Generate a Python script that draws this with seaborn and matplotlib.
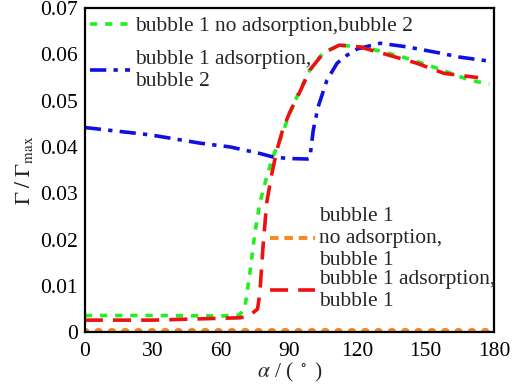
import matplotlib
matplotlib.use("Agg")
import matplotlib.pyplot as plt
from matplotlib.lines import Line2D
import seaborn as sns
import pandas as pd

# Surface coverage Γ/Γmax against contact angle α for the four cases
alpha_no_ads_b2 = [0, 30, 60, 68, 70.4, 72.6, 74.8, 77, 80, 82.7, 85.8, 90.2, 94.6, 99,
                   104.8, 112, 121, 125, 140, 147, 155, 169.5, 178]
gamma_no_ads_b2 = [0.0036, 0.0036, 0.0035, 0.0037, 0.0052, 0.0127, 0.0214, 0.0279, 0.0335,
                   0.0378, 0.0415, 0.0473, 0.0523, 0.0566, 0.0603, 0.0620, 0.0616, 0.0613,
                   0.0594, 0.0583, 0.0570, 0.0544, 0.0536]

alpha_ads_b2 = [0, 29, 51, 64, 77, 83, 90, 98, 99, 100.5, 102.6, 106.5, 111, 115, 120,
                130, 142, 156, 165, 180]
gamma_ads_b2 = [0.0442, 0.0426, 0.0408, 0.0400, 0.0386, 0.0378, 0.0375, 0.0374, 0.0376,
                0.0436, 0.0486, 0.0544, 0.0581, 0.0597, 0.0612, 0.0624, 0.0616, 0.0603,
                0.0594, 0.0584]

alpha_no_ads_b1 = [0, 180]
gamma_no_ads_b1 = [0.0, 0.0]

alpha_ads_b1 = [0, 30, 60, 68, 72, 76, 77, 78.4, 80, 82.3, 84.5, 87, 90, 95, 99, 105,
                112, 121, 134, 146, 158, 171, 173]
gamma_ads_b1 = [0.0026, 0.0026, 0.0030, 0.0031, 0.0034, 0.0050, 0.0084, 0.0184, 0.0279,
                0.0343, 0.0393, 0.0436, 0.0473, 0.0523, 0.0566, 0.0603, 0.0620, 0.0616,
                0.0598, 0.0581, 0.0559, 0.0551, 0.0550]

x_ticks = [0, 30, 60, 90, 120, 150, 180]
y_ticks = [0, 0.01, 0.02, 0.03, 0.04, 0.05, 0.06, 0.07]
y_tick_labels = ["0", "0.01", "0.02", "0.03", "0.04", "0.05", "0.06", "0.07"]

sns.set_style("white")
plt.rcParams["font.family"] = ["Liberation Serif", "DejaVu Serif"]
plt.rcParams["mathtext.fontset"] = "stix"

fig = plt.figure(figsize=(5.14, 3.84), dpi=100)
ax = fig.add_axes([0.165, 0.135, 0.796, 0.844])

series = [
    (alpha_no_ads_b2, gamma_no_ads_b2, "bubble 1 no adsorption,bubble 2",
     "#22ee22", (0, (2.0, 2.2)), "butt", 2.6),
    (alpha_ads_b2, gamma_ads_b2, "bubble 1 adsorption,\nbubble 2",
     "#1010e0", (0, (4.5, 2.0, 1.2, 2.0)), "butt", 2.6),
    (alpha_no_ads_b1, gamma_no_ads_b1, "bubble 1\nno adsorption,\nbubble 1",
     "#f58a1a", (0, (0.05, 1.55)), "round", 6.0),
    (alpha_ads_b1, gamma_ads_b1, "bubble 1 adsorption,\nbubble 1",
     "#ee1111", (0, (5.0, 2.8)), "butt", 2.6),
]

handles = []
for xs, ys, label, color, dash, cap, lw in series:
    df = pd.DataFrame({"alpha": xs, "gamma": ys})
    sns.lineplot(data=df, x="alpha", y="gamma", ax=ax, color=color, lw=lw,
                 label=label, legend=False, sort=False)
    line = ax.get_lines()[-1]
    line.set_linestyle(dash)
    line.set_dash_capstyle(cap)
    handles.append(line)

# the dotted zero line is shown as short dashes in the key
orange_key = Line2D([], [], color="#f58a1a", lw=2.8, linestyle=(0, (2.2, 1.5)),
                    label=handles[2].get_label())
key_handles = [handles[0], handles[1], orange_key, handles[3]]

ax.set_xlim(0, 180)
ax.set_ylim(0, 0.07)
ax.set_xticks(x_ticks)
ax.set_xticklabels([str(t) for t in x_ticks])
ax.set_yticks(y_ticks)
ax.set_yticklabels(y_tick_labels)
ax.tick_params(direction="in", length=7, width=1.3, labelsize=15.5, colors="black")
ax.tick_params(axis="x", pad=7)
ax.tick_params(axis="y", pad=5)
for sp in ax.spines.values():
    sp.set_visible(True)
    sp.set_color("black")
    sp.set_linewidth(1.6)

ax.set_xlabel(r"$\alpha$ / ( $^\circ$ )", fontsize=15.5, labelpad=0)
ax.set_ylabel(r"$\mathit{\Gamma}\ /\ \mathit{\Gamma}_{\rm max}$", fontsize=15.5, labelpad=4)

leg_top = ax.legend(handles=key_handles[:2], labels=[h.get_label() for h in key_handles[:2]],
                    loc="upper left", bbox_to_anchor=(-0.02, 1.015), frameon=False,
                    fontsize=15.5, handlelength=1.9, handletextpad=0.2,
                    labelspacing=0.65, borderaxespad=0.2)
ax.add_artist(leg_top)
ax.legend(handles=key_handles[2:], labels=[h.get_label() for h in key_handles[2:]],
          loc="upper left", bbox_to_anchor=(0.42, 0.425), frameon=False,
          fontsize=15.5, handlelength=2.1, handletextpad=0.2, labelspacing=0.0,
          borderaxespad=0.2)

fig.savefig("out.png", dpi=100)
